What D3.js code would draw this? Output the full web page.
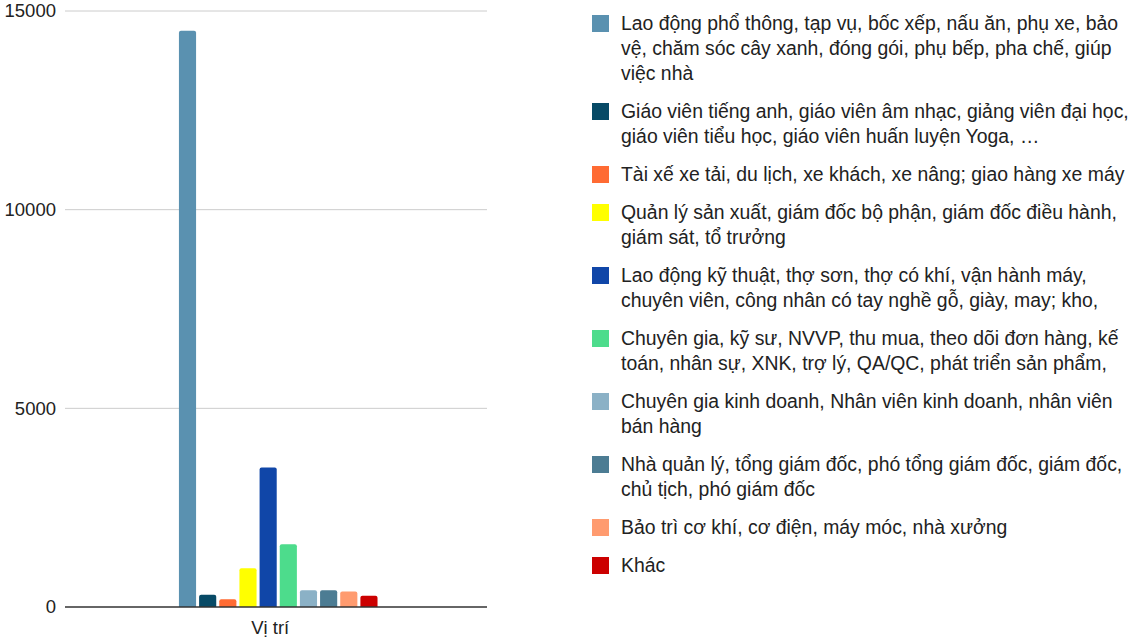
<!DOCTYPE html>
<html lang="vi">
<head>
<meta charset="utf-8">
<title>Vị trí</title>
<script src="https://d3js.org/d3.v7.min.js"></script>
<style>
  body { margin: 0; background: #fff; }
  text { font-family: "Liberation Sans", Arial, sans-serif; }
</style>
</head>
<body>
<script>
// du lieu
var category = "Vị trí";
var labels = [
  "Lao động phổ thông, tạp vụ, bốc xếp, nấu ăn, phụ xe, bảo\nvệ, chăm sóc cây xanh, đóng gói, phụ bếp, pha chế, giúp\nviệc nhà",
  "Giáo viên tiếng anh, giáo viên âm nhạc, giảng viên đại học,\ngiáo viên tiểu học, giáo viên huấn luyện Yoga, …",
  "Tài xế xe tải, du lịch, xe khách, xe nâng; giao hàng xe máy",
  "Quản lý sản xuất, giám đốc bộ phận, giám đốc điều hành,\ngiám sát, tổ trưởng",
  "Lao động kỹ thuật, thợ sơn, thợ có khí, vận hành máy,\nchuyên viên, công nhân có tay nghề gỗ, giày, may; kho,",
  "Chuyên gia, kỹ sư, NVVP, thu mua, theo dõi đơn hàng, kế\ntoán, nhân sự, XNK, trợ lý, QA/QC, phát triển sản phẩm,",
  "Chuyên gia kinh doanh, Nhân viên kinh doanh, nhân viên\nbán hàng",
  "Nhà quản lý, tổng giám đốc, phó tổng giám đốc, giám đốc,\nchủ tịch, phó giám đốc",
  "Bảo trì cơ khí, cơ điện, máy móc, nhà xưởng",
  "Khác"
];
var values = [14500, 310, 195, 975, 3510, 1580, 420, 420, 390, 280];
var colors = ["#5a91b0", "#074a66", "#ff6b33", "#ffff00", "#1046a8",
              "#4ddc8c", "#8bb1c6", "#4c7c93", "#ff9b6f", "#cc0000"];
var yTicks = [0, 5000, 10000, 15000];

var W = 1142, H = 637;
var svg = d3.select("body").append("svg")
  .attr("width", W).attr("height", H);

var plotL = 65, plotR = 487, plotT = 11, plotB = 607;

var y = d3.scaleLinear().domain([0, 15000]).range([plotB, plotT]);
var x0 = d3.scaleBand().domain([category]).range([plotL, plotR])
  .padding(0.36).align(0.51);
var x1 = d3.scaleBand().domain(d3.range(values.length))
  .range([0, x0.bandwidth()]).paddingInner(0.15).paddingOuter(0);

// luoi
svg.append("g").selectAll("line")
  .data(yTicks.filter(function(d){ return d > 0; }))
  .enter().append("line")
  .attr("x1", plotL).attr("x2", plotR)
  .attr("y1", function(d){ return y(d); })
  .attr("y2", function(d){ return y(d); })
  .attr("stroke", "#cccccc").attr("stroke-width", 1);

// nhan truc y
svg.append("g").selectAll("text")
  .data(yTicks).enter().append("text")
  .attr("x", 56)
  .attr("y", function(d){ return y(d); })
  .attr("dy", "0.35em")
  .attr("text-anchor", "end")
  .attr("font-size", 18.5)
  .attr("fill", "#222")
  .text(function(d){ return d; });

// cot
function topRounded(x, yy, w, h, r) {
  r = Math.min(r, h, w / 2);
  return "M" + x + "," + (yy + h) +
    "V" + (yy + r) +
    "Q" + x + "," + yy + " " + (x + r) + "," + yy +
    "H" + (x + w - r) +
    "Q" + (x + w) + "," + yy + " " + (x + w) + "," + (yy + r) +
    "V" + (yy + h) + "Z";
}
var gx = x0(category);
svg.append("g").selectAll("path")
  .data(values).enter().append("path")
  .attr("d", function(d, i){
    return topRounded(gx + x1(i), y(d), x1.bandwidth(), y(0) - y(d), 2);
  })
  .attr("fill", function(d, i){ return colors[i]; });

// truc 0
svg.append("line")
  .attr("x1", plotL).attr("x2", plotR)
  .attr("y1", y(0)).attr("y2", y(0))
  .attr("stroke", "#333").attr("stroke-width", 1.5);

svg.append("text")
  .attr("x", gx + x0.bandwidth() / 2 - 8)
  .attr("y", 634)
  .attr("text-anchor", "middle")
  .attr("font-size", 18.5)
  .attr("fill", "#222")
  .text(category);

// chu giai
var lx = 592, ly = 23, lineH = 25, gap = 13;
var lg = svg.append("g");
labels.forEach(function(lab, i){
  var lines = lab.split("\n");
  lg.append("rect")
    .attr("x", lx).attr("y", ly - 8)
    .attr("width", 17).attr("height", 17)
    .attr("fill", colors[i]);
  var t = lg.append("text")
    .attr("x", lx + 29).attr("y", ly)
    .attr("font-size", 19.4).attr("fill", "#222");
  lines.forEach(function(s, k){
    t.append("tspan").attr("x", lx + 29)
      .attr("y", ly + k * lineH).attr("dy", "0.35em").text(s);
  });
  ly += lines.length * lineH + gap;
});
</script>
</body>
</html>
